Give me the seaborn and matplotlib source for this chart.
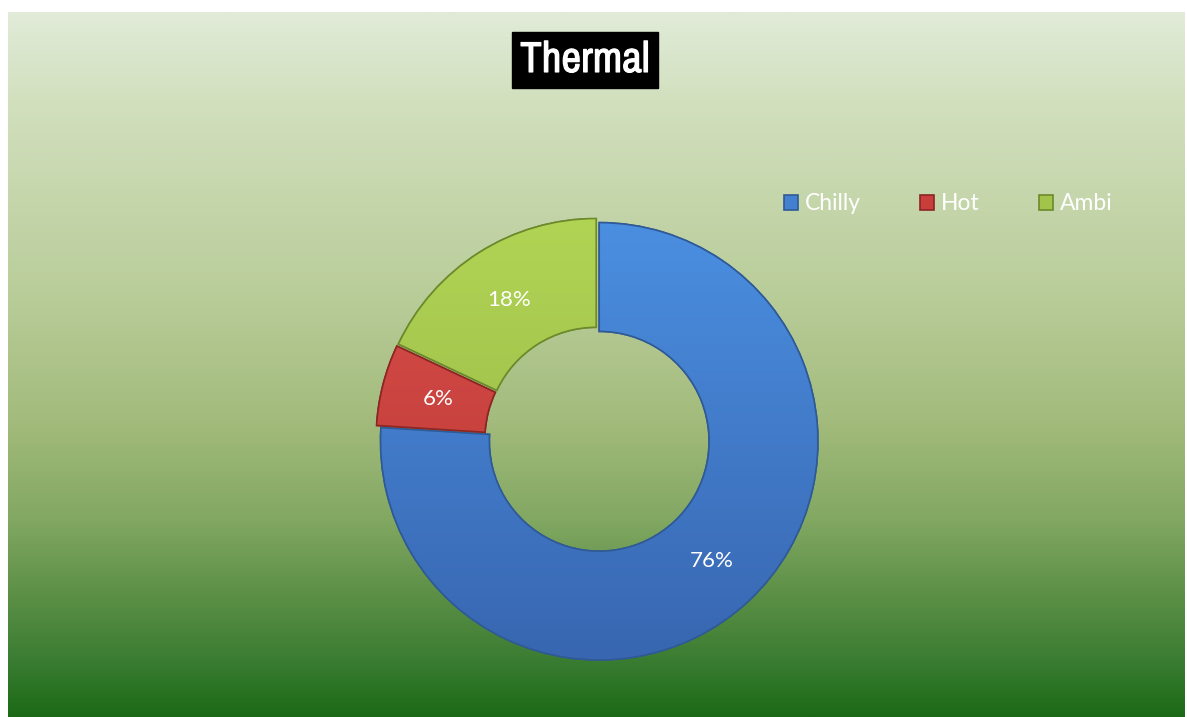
import numpy as np
import matplotlib
matplotlib.use("Agg")
import matplotlib.pyplot as plt
from matplotlib import font_manager
from matplotlib import patheffects
from matplotlib.colors import LinearSegmentedColormap
from matplotlib.patches import Patch, PathPatch
import seaborn as sns

# Thermal share by category
categories = ["Chilly", "Hot", "Ambi"]
shares = [76, 6, 18]
title = "Thermal"

sns.set_theme(style="white")
plt.rcParams["font.family"] = ["Lato", "DejaVu Sans"]

# pick a condensed face for the title if one is installed
names = sorted({f.name for f in font_manager.fontManager.ttflist})
if "Liberation Sans Narrow" in names:
    narrow = ["Liberation Sans Narrow"]
else:
    narrow = [n for n in names if "Narrow" in n or "Condensed" in n][:1]
title_family = (narrow or ["Liberation Sans"]) + ["DejaVu Sans"]

W, H, DPI = 1187, 717, 100
fig = plt.figure(figsize=(W / DPI, H / DPI), dpi=DPI, facecolor="white")

# Plot-area background: vertical green gradient
bg = fig.add_axes([8 / W, 0, 1 - 10 / W, 1 - 12 / H])
bg_cmap = LinearSegmentedColormap.from_list(
    "bg", [(0.0, "#1c6a17"), (0.08, "#3a7d32"), (0.166, "#5a8e45"),
           (0.28, "#82a862"), (0.42, "#a3bb7c"), (0.59, "#b8cc98"),
           (0.875, "#d2e0be"), (1.0, "#e1ebd8")])
grad = np.linspace(0, 1, 512).reshape(-1, 1)
bg.imshow(grad, aspect="auto", cmap=bg_cmap, origin="lower",
          extent=[0, 1, 0, 1])
bg.set_axis_off()

# Doughnut
cx, cy, r = 598, 440, 222
ax = fig.add_axes([(cx - r) / W, (H - cy - r) / H, 2 * r / W, 2 * r / H])
ax.set_axis_off()
palette = ["#4380d0", "#c93d3b", "#a2c44b"]
tops = ["#4b8fe1", "#d8504c", "#b2d455"]
bottoms = ["#3866b0", "#b83330", "#8fb040"]
edges = ["#2f5a96", "#8c2624", "#6c8a2c"]
wedges, _ = ax.pie(shares, startangle=90, counterclock=False, radius=0.985,
                   colors=palette, explode=[0.008, 0.015, 0.015],
                   wedgeprops=dict(width=0.49, linewidth=1.2))
ax.set_xlim(-1, 1)
ax.set_ylim(-1, 1)
for w, ec, top, bot in zip(wedges, edges, tops, bottoms):
    w.set_edgecolor(ec)
    shade = LinearSegmentedColormap.from_list("s", [bot, top])
    im = ax.imshow(grad, cmap=shade, origin="lower", aspect="auto",
                   extent=[-1, 1, -1, 1], zorder=w.get_zorder() + 0.1)
    im.set_clip_path(w)
    ax.add_patch(PathPatch(
        w.get_path(), transform=w.get_transform(), facecolor="none",
        edgecolor=ec, linewidth=1.2, zorder=w.get_zorder() + 0.2))
ax.set_xlim(-1, 1)
ax.set_ylim(-1, 1)

# Percentage labels at mid-ring
angles = 90 - np.cumsum([0] + shares[:-1]) * 3.6 - np.array(shares) * 1.8
for a, s in zip(angles, shares):
    rad = np.deg2rad(a)
    ax.text(0.745 * np.cos(rad), 0.745 * np.sin(rad), f"{s}%",
            ha="center", va="center", color="white", fontsize=16, zorder=5)

# Title in a black box (light stroke thickens the condensed face)
fig.text(585 / W, 1 - 60 / H, title, ha="center", va="center",
         color="white", fontsize=31, fontweight="bold",
         family=title_family,
         path_effects=[patheffects.withStroke(linewidth=0.8,
                                              foreground="white")],
         bbox=dict(boxstyle="square,pad=0.2", facecolor="black",
                   edgecolor="black"))

# Legend
handles = [Patch(facecolor=c, edgecolor=e, linewidth=1.2)
           for c, e in zip(palette, edges)]
leg = fig.legend(handles, categories, loc="center", ncol=3,
                 bbox_to_anchor=(948 / W, 1 - 204 / H), frameon=False,
                 fontsize=16.5, handlelength=0.6, handleheight=0.6,
                 handletextpad=0.3, columnspacing=2.6)
for t in leg.get_texts():
    t.set_color("white")

fig.savefig("out.png", dpi=DPI, facecolor="white")
